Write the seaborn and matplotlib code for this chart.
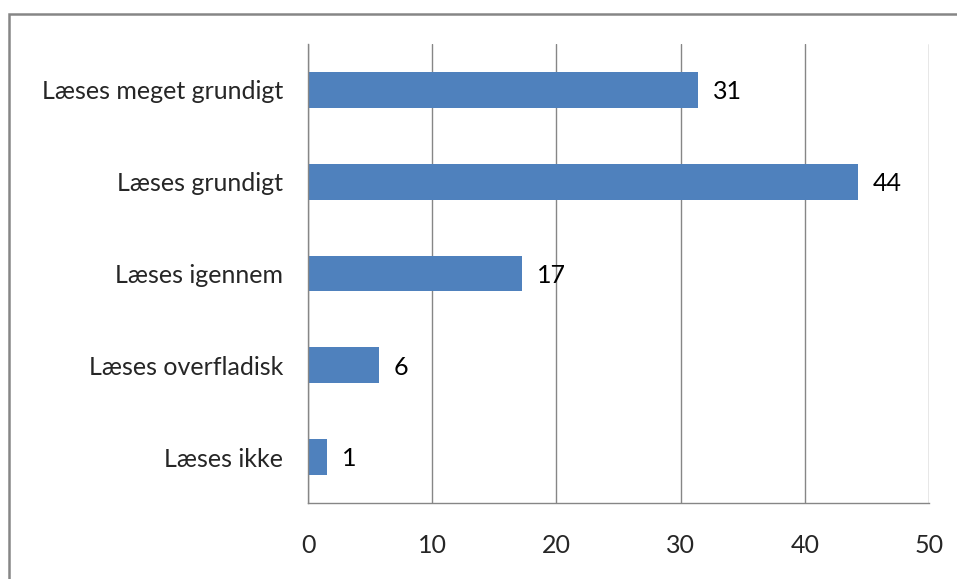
import matplotlib
matplotlib.use("Agg")
import matplotlib.pyplot as plt
import seaborn as sns
from matplotlib.patches import Rectangle

# ── DATA ─────────────────────────────────────────────
categories = ["Læses meget grundigt", "Læses grundigt", "Læses igennem",
              "Læses overfladisk", "Læses ikke"]
values = [31.4, 44.3, 17.2, 5.7, 1.5]
value_labels = ["31", "44", "17", "6", "1"]
x_ticks = [0, 10, 20, 30, 40, 50]

BAR = "#4F81BD"
GRID = "#868686"
FS = 18

sns.set_style("white")
plt.rcParams["font.family"] = ["Lato", "DejaVu Sans"]

fig = plt.figure(figsize=(9.57, 5.79), dpi=100)
ax = fig.add_axes([308 / 957, 1 - 503 / 579, 621 / 957, 459 / 579])

sns.barplot(x=values, y=categories, color=BAR, width=0.39, orient="h",
            saturation=1, linewidth=0, ax=ax)

# value labels next to bars
for i, (v, lab) in enumerate(zip(values, value_labels)):
    ax.text(v + 1.2, i + 0.02, lab, va="center", ha="left", fontsize=FS, color="black")

ax.set_xlim(0, 50)
ax.set_ylim(len(categories) - 0.5, -0.5)
ax.set_xticks(x_ticks)
ax.set_xlabel(""); ax.set_ylabel("")

# gridlines and spines
ax.grid(axis="x", color=GRID, linewidth=1.0)
ax.set_axisbelow(True)
for s in ["top", "right"]:
    ax.spines[s].set_visible(False)
for s in ["left", "bottom"]:
    ax.spines[s].set_color(GRID)
    ax.spines[s].set_linewidth(1.0)

# y ticks at category boundaries, labels in between
ax.set_yticks([i - 0.5 for i in range(len(categories) + 1)], minor=False)
ax.set_yticklabels([])
ax.set_yticks(range(len(categories)), minor=True)
ax.set_yticklabels(categories, minor=True)
ax.tick_params(axis="y", which="major", length=9.5, width=1.0, color=GRID, direction="out")
ax.tick_params(axis="y", which="minor", length=0, pad=18, labelsize=FS)
ax.tick_params(axis="x", length=6, width=1.0, color=GRID, direction="out",
               pad=16, labelsize=FS)

# outer chart border (clipped at right and bottom)
fig.patches.append(Rectangle((8.5 / 957, -0.1), 1.2, (1 - 13.5 / 579) + 0.1,
                             transform=fig.transFigure, fill=False,
                             edgecolor=GRID, linewidth=1.8))

fig.savefig("out.png", dpi=100)
